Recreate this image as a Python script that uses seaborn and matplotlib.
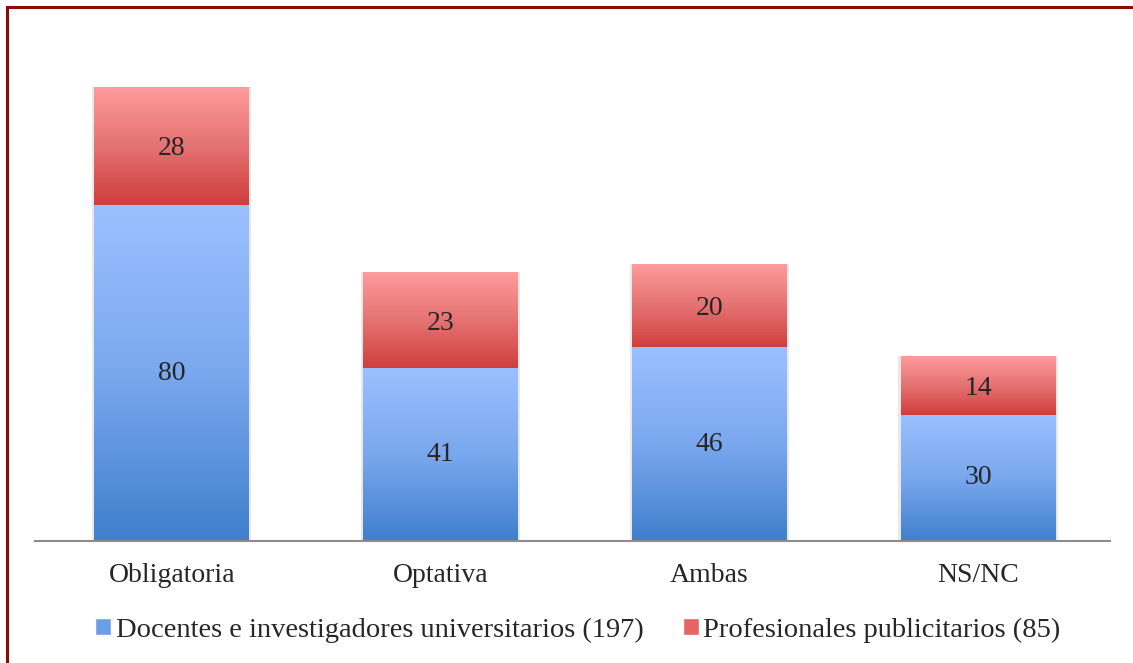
import numpy as np
import pandas as pd
import matplotlib.pyplot as plt
import seaborn as sns
from matplotlib.colors import LinearSegmentedColormap
from matplotlib.patches import Rectangle

categories = ['Obligatoria', 'Optativa', 'Ambas', 'NS/NC']
docentes = [80, 41, 46, 30]
profesionales = [28, 23, 20, 14]
series_labels = ['Docentes e investigadores universitarios (197)',
                 'Profesionales publicitarios (85)']

df = pd.DataFrame({'cat': categories, 'doc': docentes, 'prof': profesionales})
df['total'] = df['doc'] + df['prof']

sns.set_style('white')
plt.rcParams['font.family'] = ['Liberation Serif', 'DejaVu Serif']

fig = plt.figure(figsize=(11.33, 6.63), dpi=100)
ax = fig.add_axes([35 / 1133, 1 - 541 / 663, 1075 / 1133, 504 / 663])

blue_cmap = LinearSegmentedColormap.from_list('b', ['#3f7fcc', '#7aa8ee', '#9bc0ff'])
red_cmap = LinearSegmentedColormap.from_list('r', ['#cf3e3c', '#e57272', '#ff9b9b'])

sns.barplot(data=df, x='cat', y='total', color='#ff9b9b', width=0.576, ax=ax)
sns.barplot(data=df, x='cat', y='doc', color='#9bc0ff', width=0.576, ax=ax)

grad = np.linspace(0, 1, 256).reshape(-1, 1)
n = len(categories)
for i, p in enumerate(ax.patches):
    cmap = red_cmap if i < n else blue_cmap
    x0, y0 = p.get_x(), p.get_y()
    w, h = p.get_width(), p.get_height()
    if i < n:
        # red part sits above the blue part
        y0 = docentes[i]
        h = profesionales[i]
    p.set_facecolor('none')
    p.set_edgecolor('none')
    # soft shadow
    ax.add_patch(Rectangle((x0 - 0.008, y0), w + 0.016, h, facecolor='#e8e8e8',
                           edgecolor='none', zorder=1))
    ax.imshow(grad, cmap=cmap, origin='lower', aspect='auto',
              extent=(x0, x0 + w, y0, y0 + h), zorder=2)

for i in range(n):
    ax.text(i, docentes[i] / 2, str(docentes[i]), ha='center', va='center', fontsize=20, zorder=3)
    ax.text(i, docentes[i] + profesionales[i] / 2 - 0.6, str(profesionales[i]),
            ha='center', va='center', fontsize=20, zorder=3)

ax.set_xlim(-0.509, n - 0.509)
ax.set_ylim(0, 120)
ax.set_xlabel('')
ax.set_ylabel('')
ax.set_yticks([])
ax.tick_params(axis='x', length=0, labelsize=20, pad=16)
for s in ['top', 'right', 'left']:
    ax.spines[s].set_visible(False)
ax.spines['bottom'].set_color('#8c8c8c')
ax.spines['bottom'].set_linewidth(1.5)
ax.spines['bottom'].set_zorder(4)

handles = [Rectangle((0, 0), 1, 1, facecolor='#6a9ee6'),
           Rectangle((0, 0), 1, 1, facecolor='#e76464')]
fig.legend(handles, series_labels, loc='center', bbox_to_anchor=(578 / 1133, 1 - 630 / 663),
           ncol=2, frameon=False, fontsize=20.5, handlelength=0.56, handleheight=0.56,
           handletextpad=0.15, columnspacing=1.4, borderpad=0, borderaxespad=0)

# outer border (only top and left edges fall inside the picture)
fig.add_artist(Rectangle((7 / 1133, -0.1), 1.2, 1 - 7 / 663 + 0.1, transform=fig.transFigure,
                         facecolor='none', edgecolor='#8b0a0a', linewidth=2.2))

fig.savefig('out.png', dpi=100)
